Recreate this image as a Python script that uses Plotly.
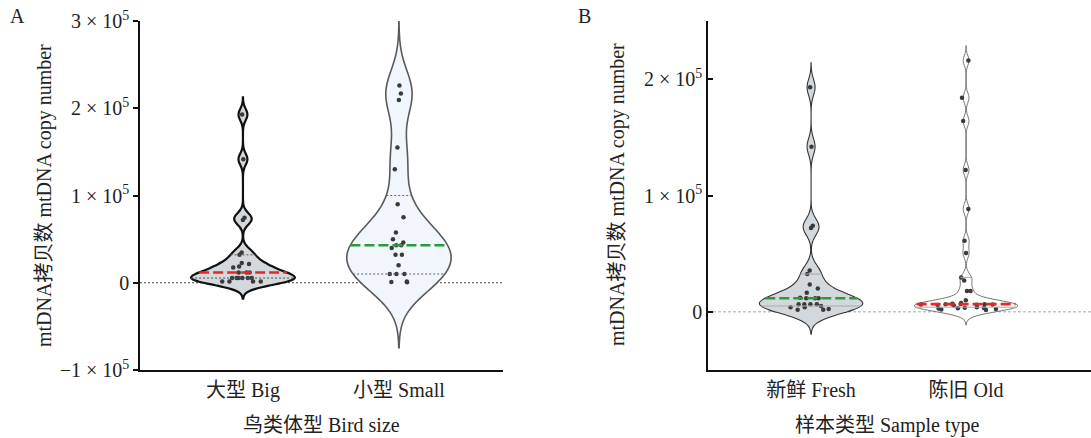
import numpy as np
import plotly.graph_objects as go

# ---------------- data ----------------
categories_a = ["大型 Big", "小型 Small"]
big = [192700, 141600, 74500, 72000, 34700, 32000, 22500, 21400, 18700, 17500,
       11800, 11800, 11800, 5400, 5400, 5400, 5400, 5400, 5400, 1500, 1500, 1500, 1500]
small = [226000, 217000, 209500, 155000, 130000, 90000, 75000, 57600, 50000, 46000,
         43000, 43000, 39700, 32000, 32000, 20000, 10000, 10000, 10000, 1500, 1000, 500]

categories_b = ["新鲜 Fresh", "陈旧 Old"]
fresh = [193000, 142000, 74000, 72000, 35500, 32500, 23500, 20000, 16500,
         12000, 11700, 11700, 11700, 6600, 6600, 6600, 6600, 5000, 4000, 4000, 1700, 1700, 2500]
old = [216000, 184000, 164000, 122000, 88500, 61000, 50500, 29600, 27000, 18000, 18000, 10000,
       7500, 7000, 6800, 6600, 6500, 6400, 6300, 6200, 6000, 5800, 5500,
       4000, 3600, 3300, 3000, 2800, 2500, 2000, 1500]

yticks_a = [-100000, 0, 100000, 200000, 300000]
yticktext_a = ["−1 × 10<sup>5</sup>", "0", "1 × 10<sup>5</sup>", "2 × 10<sup>5</sup>", "3 × 10<sup>5</sup>"]
yticks_b = [0, 100000, 200000]
yticktext_b = ["0", "1 × 10<sup>5</sup>", "2 × 10<sup>5</sup>"]

ytitle = "mtDNA拷贝数 mtDNA copy number"
xtitle_a = "鸟类体型 Bird size"
xtitle_b = "样本类型 Sample type"

# ---------------- style ----------------
FONT = "Liberation Serif, Noto Sans CJK SC, serif"
W, H = 1091, 438
VW_A = 0.667
VW_B = 0.665
CUT = 3  # density drawn out to CUT bandwidths beyond the data

specs = [
    dict(data=big, pos=0, ax="x", ay="y", bw=6600, fill="#d3d8dc", lc="#111111", lw=2.2,
         mc="#e8262a", qc="#555555", qd="2px,2px", jit=0.5, vw=VW_A),
    dict(data=small, pos=1, ax="x", ay="y", bw=25000, fill="#f0f6fb", lc="#5a5a5a", lw=1.6,
         mc="#2a9a3a", qc="#666666", qd="2px,2px", jit=0.3, vw=VW_A),
    dict(data=fresh, pos=0, ax="x2", ay="y2", bw=7000, fill="#d3d8dc", lc="#333333", lw=1.1,
         mc="#2a9a3a", qc="#aaaaaa", qd="solid", jit=0.5, vw=VW_B),
    dict(data=old, pos=1, ax="x2", ay="y2", bw=4300, fill="#ffffff", lc="#666666", lw=0.9,
         mc="#e8262a", qc="#aaaaaa", qd="solid", jit=0.9, vw=VW_B),
]


def density(data, bw, v):
    d = np.asarray(data, dtype=float)
    return np.exp(-0.5 * ((np.atleast_1d(v)[None, :] - d[:, None]) / bw) ** 2).sum(0)


def halfwidth(data, bw, width, yv):
    d = np.asarray(data, dtype=float)
    grid = np.linspace(d.min() - CUT * bw, d.max() + CUT * bw, 4000)
    return width / 2 * density(d, bw, yv)[0] / density(d, bw, grid).max()


fig = go.Figure()
for s in specs:
    lo = min(s["data"]) - CUT * s["bw"]
    hi = max(s["data"]) + CUT * s["bw"]
    fig.add_trace(go.Violin(
        y=s["data"], x0=s["pos"], xaxis=s["ax"], yaxis=s["ay"], width=s["vw"],
        bandwidth=s["bw"], spanmode="manual", span=[lo, hi], scalemode="width", side="both",
        fillcolor=s["fill"], line=dict(color=s["lc"], width=s["lw"]),
        points="all", pointpos=0, jitter=s["jit"],
        marker=dict(color="#3a3a3a", size=4.5, line=dict(width=0)),
        box_visible=False, meanline_visible=False, showlegend=False, hoverinfo="skip",
    ))

for s in specs:
    q1, med, q3 = np.percentile(s["data"], [25, 50, 75], method="weibull")
    for q, col, dash, lw in [(q1, s["qc"], s["qd"], 1), (q3, s["qc"], s["qd"], 1),
                             (med, s["mc"], "10px,4px", 2.6)]:
        hw = halfwidth(s["data"], s["bw"], s["vw"], q)
        fig.add_trace(go.Scatter(
            x=[s["pos"] - hw, s["pos"] + hw], y=[q, q], xaxis=s["ax"], yaxis=s["ay"],
            mode="lines", line=dict(color=col, width=lw, dash=dash),
            showlegend=False, hoverinfo="skip",
        ))

axis_common = dict(showline=True, linecolor="#111111", linewidth=1.5, showgrid=False,
                   zeroline=False, automargin=False,
                   tickfont=dict(family=FONT, size=20, color="#222222"))

fig.update_layout(
    width=W, height=H, autosize=False, margin=dict(l=0, r=0, t=0, b=0, pad=0),
    paper_bgcolor="white", plot_bgcolor="white", showlegend=False,
    font=dict(family=FONT, size=20, color="#222222"),
    violinmode="overlay", violingap=0, violingroupgap=0,
    xaxis=dict(domain=[140 / W, 503 / W], range=[-0.66, 1.667], tickvals=[0, 1],
               ticktext=categories_a, ticks="", ticklabelstandoff=1, anchor="y", **axis_common),
    yaxis=dict(domain=[1 - 370 / H, 1 - 21 / H], range=[-100000, 300000], tickvals=yticks_a,
               ticktext=yticktext_a, ticks="outside", ticklen=5, tickwidth=1.5, tickcolor="#111111",
               anchor="x", **axis_common),
    xaxis2=dict(domain=[708 / W, 1.0], range=[-0.665, 1.806], tickvals=[0, 1],
                ticktext=categories_b, ticks="", ticklabelstandoff=1, anchor="y2", **axis_common),
    yaxis2=dict(domain=[1 - 370 / H, 1 - 21 / H], range=[-50000, 250000], tickvals=yticks_b,
                ticktext=yticktext_b, ticks="inside", ticklen=5, tickwidth=1.5, tickcolor="#111111",
                anchor="x2", **axis_common),
    shapes=[
        dict(type="line", xref="x domain", yref="y", x0=0, x1=1, y0=0, y1=0, layer="below",
             line=dict(color="#444444", width=1, dash="2px,2px")),
        dict(type="line", xref="x2 domain", yref="y2", x0=0, x1=1, y0=0, y1=0, layer="below",
             line=dict(color="#c4c4c4", width=1.5, dash="3px,2px")),
    ],
    annotations=[
        dict(text="A", x=8 / W, y=1 - 16 / H, xref="paper", yref="paper", xanchor="left",
             yanchor="middle", showarrow=False, font=dict(family=FONT, size=20)),
        dict(text="B", x=576 / W, y=1 - 16 / H, xref="paper", yref="paper", xanchor="left",
             yanchor="middle", showarrow=False, font=dict(family=FONT, size=20)),
        dict(text=ytitle, x=44 / W, y=1 - 196 / H, xref="paper", yref="paper", textangle=-90,
             xanchor="center", yanchor="middle", showarrow=False, font=dict(family=FONT, size=20)),
        dict(text=ytitle, x=617 / W, y=1 - 195 / H, xref="paper", yref="paper", textangle=-90,
             xanchor="center", yanchor="middle", showarrow=False, font=dict(family=FONT, size=20)),
        dict(text=xtitle_a, x=321 / W, y=1 - 425 / H, xref="paper", yref="paper",
             xanchor="center", yanchor="middle", showarrow=False, font=dict(family=FONT, size=20)),
        dict(text=xtitle_b, x=887 / W, y=1 - 425 / H, xref="paper", yref="paper",
             xanchor="center", yanchor="middle", showarrow=False, font=dict(family=FONT, size=20)),
    ],
)

fig.write_html("out.html")
